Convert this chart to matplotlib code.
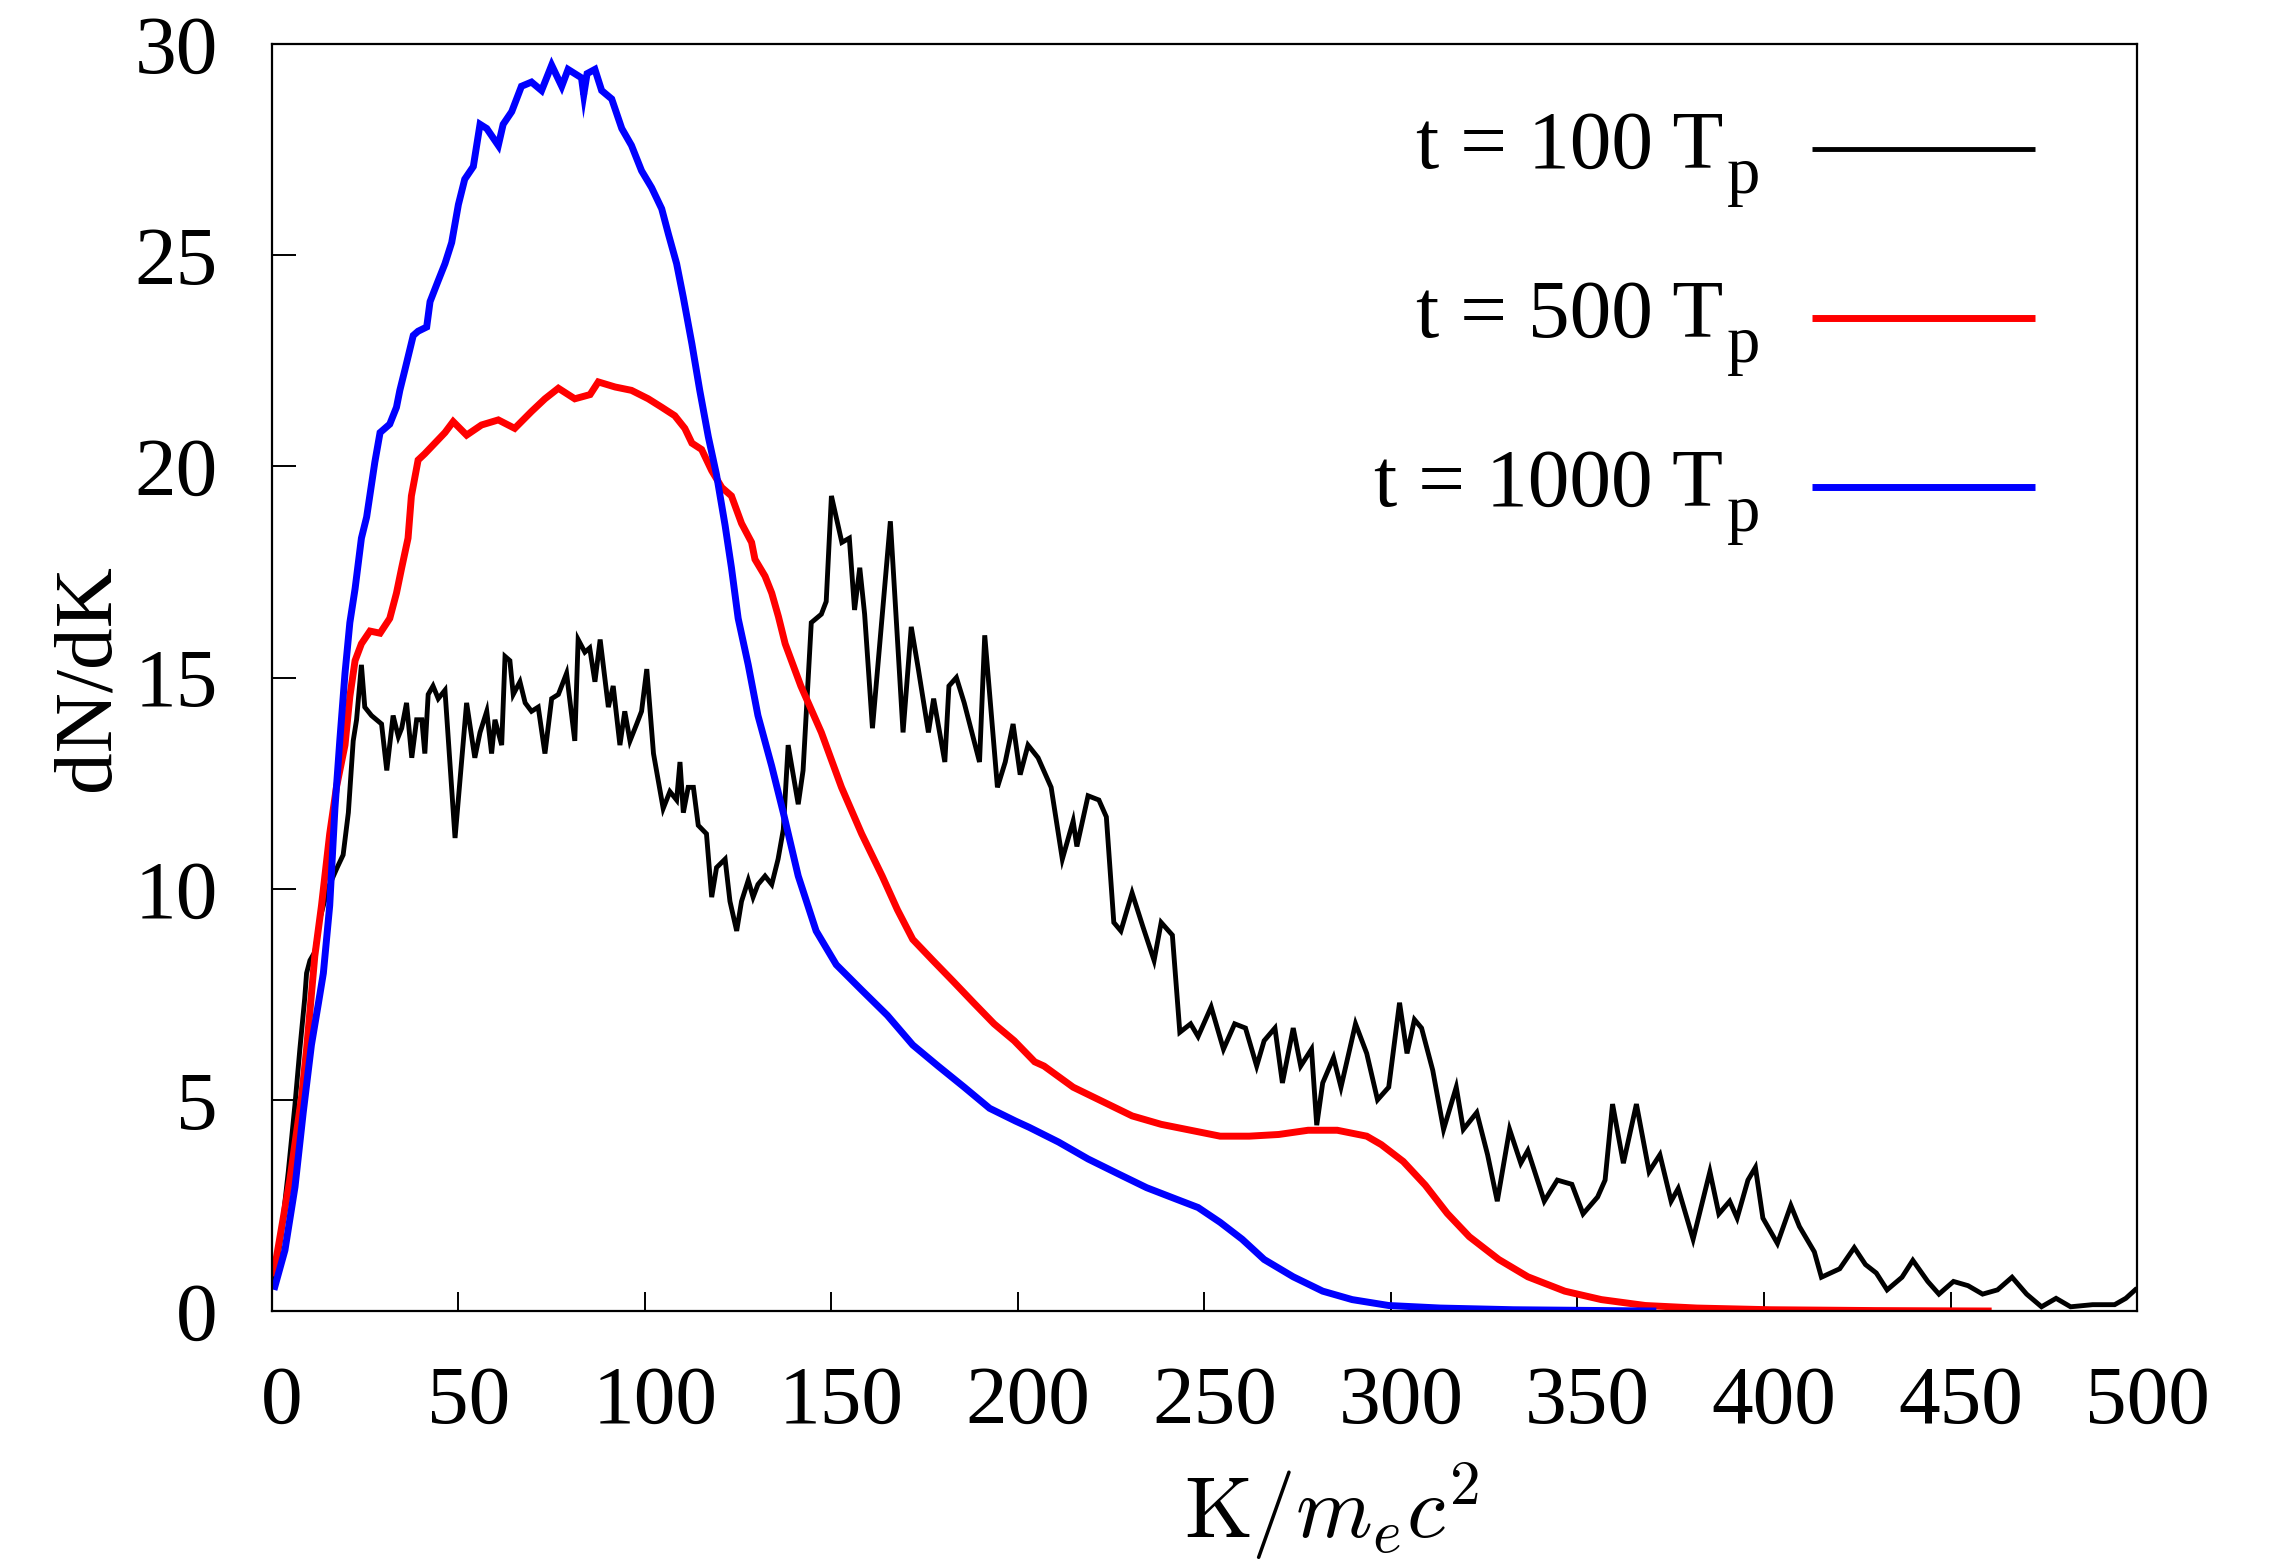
import numpy as np
import matplotlib
matplotlib.use("Agg")
import matplotlib.pyplot as plt
from matplotlib.transforms import ScaledTranslation

plt.rcParams['font.family'] = ['Liberation Serif', 'DejaVu Serif']

# spectra dN/dK vs K/(m_e c^2) at three times
k_100 = [0.5, 2.5, 4.4, 6.2, 7.5, 8.8, 9.3, 10.2, 11.5, 12.9, 15.0, 17.5, 19.1, 20.5, 21.8, 22.7, 24.0, 24.9,
         26.7, 29.4, 30.8, 32.5, 33.9, 34.8, 36.1, 37.5, 38.8, 40.2, 41.0, 41.9, 43.2, 44.6, 46.4, 49.1, 52.2,
         54.4, 55.8, 57.6, 58.9, 59.8, 61.6, 62.5, 63.8, 64.7, 66.5, 67.9, 69.6, 71.4, 73.2, 75.0, 76.8, 79.0,
         81.2, 82.1, 83.9, 85.2, 86.6, 88.0, 90.2, 91.5, 93.3, 94.6, 96.0, 97.8, 99.1, 100.5, 102.3, 104.9,
         106.7, 108.5, 109.4, 110.3, 111.6, 113.0, 114.3, 116.5, 117.9, 119.2, 121.5, 122.8, 124.6, 125.9,
         127.7, 129.0, 130.3, 132.2, 134.0, 135.7, 137.1, 138.4, 141.1, 142.4, 144.6, 147.3, 148.6, 150.0,
         152.8, 154.8, 156.2, 157.6, 158.9, 161.0, 165.8, 169.2, 171.4, 173.3, 176.0, 177.4, 180.4, 181.5,
         183.5, 185.6, 189.7, 191.1, 194.5, 196.6, 198.7, 200.6, 202.7, 205.4, 208.9, 211.9, 214.8, 215.8,
         218.8, 221.7, 223.7, 225.7, 227.6, 230.6, 233.5, 236.5, 238.4, 241.4, 243.4, 246.3, 248.3, 251.8,
         255.1, 258.1, 261.0, 264.0, 266.0, 268.9, 270.9, 273.8, 275.8, 278.7, 280.1, 281.7, 284.6, 286.6,
         290.5, 293.5, 296.4, 299.4, 302.3, 304.3, 306.3, 308.2, 311.2, 314.1, 317.5, 319.4, 323.0, 325.9,
         328.5, 331.8, 334.8, 336.7, 341.1, 344.6, 348.5, 351.5, 355.4, 357.4, 359.4, 362.3, 365.8, 369.2,
         372.1, 375.1, 377.0, 381.0, 385.5, 387.9, 390.8, 392.8, 395.7, 397.7, 399.7, 403.6, 407.2, 409.5,
         413.5, 415.4, 420.3, 424.2, 427.2, 430.1, 433.0, 437.0, 439.9, 443.9, 446.9, 450.8, 454.7, 458.6,
         462.6, 466.5, 470.4, 474.4, 478.3, 482.2, 488.1, 494.0, 497.0, 499.5]
dndk_100 = [0.6, 1.8, 3.3, 4.9, 6.2, 7.4, 8.0, 8.3, 8.5, 9.3, 10.0, 10.5, 10.8, 11.8, 13.5, 14.0, 15.3, 14.3,
            14.1, 13.9, 12.8, 14.1, 13.6, 13.8, 14.4, 13.1, 14.0, 14.0, 13.2, 14.6, 14.8, 14.5, 14.7, 11.2, 14.4,
            13.1, 13.7, 14.2, 13.2, 14.0, 13.4, 15.5, 15.4, 14.6, 14.9, 14.4, 14.2, 14.3, 13.2, 14.5, 14.6, 15.1,
            13.5, 15.9, 15.6, 15.7, 14.9, 15.9, 14.3, 14.8, 13.4, 14.2, 13.5, 13.9, 14.2, 15.2, 13.2, 11.9,
            12.3, 12.1, 13.0, 11.8, 12.4, 12.4, 11.5, 11.3, 9.8, 10.5, 10.7, 9.7, 9.0, 9.7,
            10.2, 9.8, 10.1, 10.3, 10.1, 10.7, 11.4, 13.4, 12.0, 12.8, 16.3, 16.5, 16.8, 19.3,
            18.2, 18.3, 16.6, 17.6, 16.5, 13.8, 18.7, 13.7, 16.2, 15.2, 13.7, 14.5, 13.0, 14.8,
            15.0, 14.4, 13.0, 16.0, 12.4, 13.0, 13.9, 12.7, 13.4, 13.1, 12.4, 10.7, 11.6, 11.0,
            12.2, 12.1, 11.7, 9.2, 9.0, 9.9, 9.1, 8.3, 9.2, 8.9, 6.6, 6.8, 6.5, 7.2,
            6.2, 6.8, 6.7, 5.8, 6.4, 6.7, 5.4, 6.7, 5.8, 6.2, 4.4, 5.4, 6.0, 5.3,
            6.8, 6.1, 5.0, 5.3, 7.3, 6.1, 6.9, 6.7, 5.7, 4.3, 5.3, 4.3, 4.7, 3.7,
            2.6, 4.3, 3.5, 3.8, 2.6, 3.1, 3.0, 2.3, 2.7, 3.1, 4.9, 3.5, 4.9, 3.3,
            3.7, 2.6, 2.9, 1.7, 3.3, 2.3, 2.6, 2.2, 3.1, 3.4, 2.2, 1.6, 2.5, 2.0,
            1.4, 0.8, 1.0, 1.5, 1.1, 0.9, 0.5, 0.8, 1.2, 0.7, 0.4, 0.7, 0.6, 0.4,
            0.5, 0.8, 0.4, 0.1, 0.3, 0.1, 0.15, 0.15, 0.3, 0.5]

k_500 = [0.5, 4.8, 8.0, 9.3, 11.5, 13.3, 15.5, 17.3, 19.6, 20.9, 22.3, 24.0, 26.3, 29.0, 31.6, 33.4, 34.8,
         36.5, 37.4, 39.2, 41.0, 43.7, 46.4, 48.6, 52.2, 56.2, 60.7, 65.1, 69.6, 73.2, 76.8, 81.2, 85.3, 87.5,
         92.0, 96.4, 100.9, 104.5, 108.0, 110.7, 112.6, 115.2, 117.9, 120.6, 123.2, 125.9, 128.6, 129.5,
         132.2, 134.0, 135.8, 137.6, 141.8, 147.3, 152.7, 158.1, 163.6, 167.7, 171.8, 177.2, 182.7, 188.1,
         193.6, 199.0, 204.5, 207.0, 214.8, 222.7, 230.6, 238.4, 246.3, 254.2, 262.0, 269.9, 277.8, 285.6,
         293.5, 297.4, 303.3, 309.2, 315.1, 321.0, 328.9, 336.7, 346.6, 356.4, 368.2, 382.0, 401.6, 430.0,
         460.1]
dndk_500 = [0.9, 3.1, 5.1, 6.2, 8.4, 9.6, 11.3, 12.4, 13.4, 14.55, 15.4, 15.8, 16.1, 16.05, 16.4, 17.0, 17.6,
            18.3, 19.3, 20.15, 20.3, 20.55, 20.8, 21.06, 20.74, 20.98, 21.1, 20.9, 21.3, 21.6, 21.85, 21.6, 21.7,
            22.0, 21.88, 21.8, 21.6, 21.4, 21.2, 20.9, 20.55, 20.4, 19.9, 19.5, 19.3, 18.65, 18.2, 17.8,
            17.4, 17.0, 16.44, 15.8, 14.8, 13.7, 12.4, 11.3, 10.3, 9.5, 8.8, 8.3, 7.8, 7.3,
            6.8, 6.4, 5.9, 5.8, 5.3, 4.96, 4.62, 4.42, 4.28, 4.14, 4.14, 4.18, 4.28, 4.28,
            4.14, 3.94, 3.54, 2.98, 2.31, 1.76, 1.22, 0.81, 0.47, 0.27, 0.13, 0.07, 0.03, 0.01,
            0.0]

k_1000 = [0.8, 3.5, 6.2, 8.4, 10.6, 12.5, 13.8, 15.5, 16.9, 18.2, 19.6, 20.9, 22.3, 24.0, 25.4, 27.6, 29.0,
          31.6, 33.4, 34.3, 35.7, 37.9, 39.2, 41.5, 42.4, 44.6, 46.4, 48.2, 50.0, 51.7, 54.0, 55.8, 57.6, 60.7,
          62.0, 64.3, 66.9, 69.6, 72.3, 75.0, 77.7, 79.4, 83.0, 83.6, 84.5, 86.6, 88.4, 91.1, 93.8, 96.4, 99.1,
          101.8, 104.5, 106.3, 108.5, 110.3, 112.6, 114.7, 117.0, 119.2, 121.5, 123.2, 125.0, 127.7, 130.3,
          134.0, 137.1, 141.1, 145.9, 151.3, 158.1, 165.0, 171.8, 178.6, 185.6, 192.4, 199.3, 203.0, 210.9,
          218.8, 226.6, 234.5, 242.4, 248.3, 254.2, 260.1, 266.0, 273.8, 281.7, 289.6, 299.4, 313.2, 332.8,
          370.2]
dndk_1000 = [0.58, 1.44, 2.94, 4.7, 6.3, 7.3, 8.0, 9.6, 11.9, 13.5, 15.1, 16.3, 17.1, 18.3, 18.8, 20.1, 20.8,
             21.0, 21.4, 21.8, 22.3, 23.1, 23.2, 23.3, 23.9, 24.4, 24.8, 25.3, 26.2, 26.8, 27.1, 28.1, 28.0, 27.6,
             28.1, 28.4, 29.0, 29.1, 28.9, 29.5, 29.0, 29.4, 29.2, 28.8, 29.3, 29.4, 28.9, 28.7, 28.0, 27.6, 27.0,
             26.6, 26.1, 25.5, 24.8, 24.0, 22.9, 21.8, 20.7, 19.8, 18.6, 17.6, 16.4, 15.3, 14.1,
             12.9, 11.8, 10.3, 9.0, 8.2, 7.6, 7.0, 6.3, 5.8, 5.3, 4.8, 4.5, 4.35, 4.0,
             3.6, 3.26, 2.92, 2.65, 2.45, 2.1, 1.7, 1.22, 0.81, 0.47, 0.27, 0.13, 0.07, 0.03,
             0.0]

times = ["100", "500", "1000"]
colors = ["black", "#ff0000", "#0000ff"]
widths = [3.5, 5.0, 5.0]

fig = plt.figure(figsize=(22.79, 15.68), dpi=100)
ax = fig.add_axes([0.1193, 0.1639, 0.8184, 0.8080])

series = [(k_100, dndk_100), (k_500, dndk_500), (k_1000, dndk_1000)]
for (k, d), c, lw in zip(series, colors, widths):
    ax.plot(k, d, color=c, lw=lw, solid_joinstyle='miter')

ax.set_xlim(0, 500)
ax.set_ylim(0, 30)
ax.set_xticks(np.arange(0, 501, 50))
ax.set_yticks(np.arange(0, 31, 5))

for s in ax.spines.values():
    s.set_linewidth(1.6)
ax.tick_params(axis='both', direction='in', labelsize=60, width=1.4, top=False, right=False)
ax.tick_params(axis='x', length=14, pad=39)
ax.tick_params(axis='y', length=17, pad=39)

# gnuplot puts the x labels a bit to the right of the ticks
shift = ScaledTranslation(0.10, 0, fig.dpi_scale_trans)
for lab in ax.get_xticklabels():
    lab.set_transform(lab.get_transform() + shift)

ax.set_ylabel("dN/dK", fontsize=60)
ax.yaxis.set_label_coords(-0.078, 0.5)
ax.set_xlabel(r"$\mathrm{K}/m_ec^2$", fontsize=63, math_fontfamily='cm')
ax.xaxis.label.set_va('baseline')
ax.xaxis.set_label_coords(0.568, -0.179)

# key: text right-aligned with a dropped subscript, sample line to its right
for i, (t, c, lw) in enumerate(zip(times, colors, widths)):
    ty = 0.9021 - i * 0.1332
    ax.text(0.7780, ty, f"t = {t} T", transform=ax.transAxes, ha='right', va='baseline', fontsize=60)
    ax.text(0.7800, ty - 0.0197, "p", transform=ax.transAxes, ha='left', va='baseline', fontsize=48)
    ax.plot([0.8257, 0.9453], [ty + 0.015, ty + 0.015], transform=ax.transAxes,
            color=c, lw=lw, solid_capstyle='butt')

fig.savefig("out.png", dpi=100)
